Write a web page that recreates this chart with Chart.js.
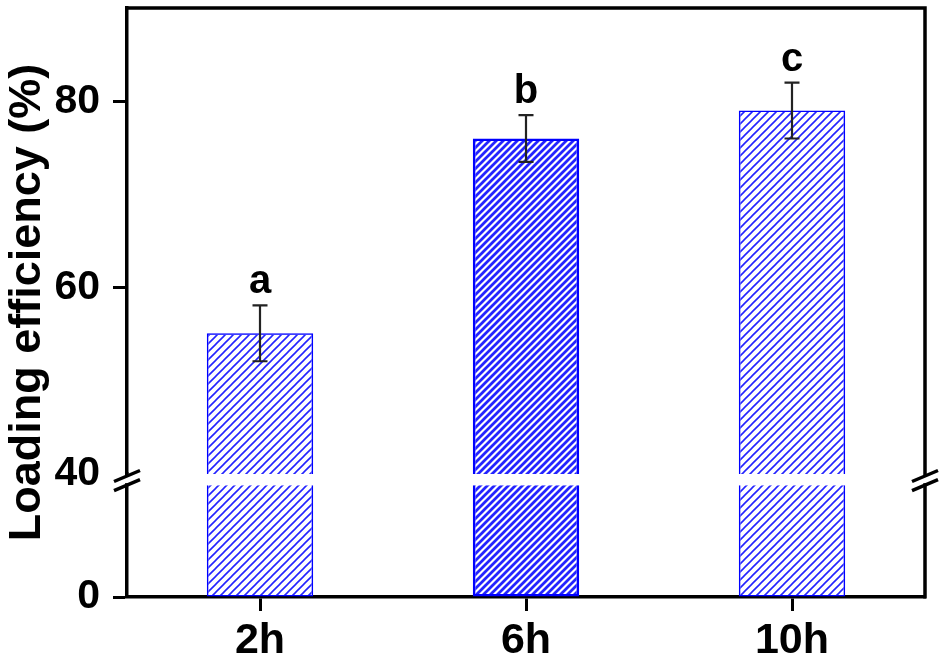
<!DOCTYPE html>
<html>
<head>
<meta charset="utf-8">
<script src="https://cdn.jsdelivr.net/npm/chart.js@4.4.1/dist/chart.umd.min.js"></script>
<style>
    html, body { margin: 0; padding: 0; background: #fff; }
    #wrap { width: 945px; height: 661px; }
</style>
</head>
<body>
<div id="wrap"><canvas id="loadChart"></canvas></div>
<script>
// data
const categories = ['2h', '6h', '10h'];
const efficiency = [55.1, 76.0, 79.0];
const errorBars = [3.0, 2.5, 3.0];
const letters = ['a', 'b', 'c'];
const upperTicks = [40, 60, 80];
const lowerTicks = [0];
const breakValue = 40;

const FONT = "'Liberation Sans', Arial, sans-serif";

function hatch(p, lineWidth) {
    const c = document.createElement('canvas');
    c.width = p;
    c.height = p;
    const g = c.getContext('2d');
    g.strokeStyle = '#2424ff';
    g.lineWidth = lineWidth;
    g.beginPath();
    // "/" lines, tiled
    g.moveTo(-1, p + 1); g.lineTo(p + 1, -1);
    g.moveTo(-1, 1); g.lineTo(1, -1);
    g.moveTo(p - 1, p + 1); g.lineTo(p + 1, p - 1);
    g.stroke();
    return g.createPattern(c, 'repeat');
}

const thinHatch = hatch(8, 1.6);
const thickHatch = hatch(7, 2.8);
const fills = [thinHatch, thickHatch, thinHatch];
const borders = [1.5, 2.5, 1.5];

const breakPlugin = {
    id: 'breakAndErrors',
    afterDatasetsDraw(chart) {
        const ctx = chart.ctx;
        const x = chart.scales.x;
        const y = chart.scales.y;
        ctx.save();
        ctx.strokeStyle = '#222';
        ctx.lineWidth = 2.2;
        ctx.fillStyle = '#000';
        ctx.font = 'bold 40px ' + FONT;
        ctx.textAlign = 'center';
        ctx.textBaseline = 'alphabetic';
        efficiency.forEach(function (v, i) {
            const px = x.getPixelForValue(i);
            const top = y.getPixelForValue(v + errorBars[i]);
            const bot = y.getPixelForValue(v - errorBars[i]);
            ctx.beginPath();
            ctx.moveTo(px, top); ctx.lineTo(px, bot);
            ctx.moveTo(px - 7.5, top); ctx.lineTo(px + 7.5, top);
            ctx.moveTo(px - 7.5, bot); ctx.lineTo(px + 7.5, bot);
            ctx.stroke();
            ctx.fillText(letters[i], px, top - 12);
        });
        ctx.restore();
    },
    afterDraw(chart) {
        const ctx = chart.ctx;
        const a = chart.chartArea;
        const yHi = chart.scales.y.getPixelForValue(breakValue);
        const yLo = chart.scales.yLow.getPixelForValue(breakValue);
        ctx.save();
        // top and right frame
        ctx.strokeStyle = '#000';
        ctx.lineWidth = 3.5;
        ctx.beginPath();
        ctx.moveTo(a.left, a.top);
        ctx.lineTo(a.right, a.top);
        ctx.lineTo(a.right, a.bottom + 1.5);
        ctx.stroke();
        // axis break
        [a.left, a.right].forEach(function (ax) {
            ctx.fillStyle = '#fff';
            ctx.fillRect(ax - 5, yHi + 3, 10, yLo - yHi - 5);
            ctx.beginPath();
            ctx.moveTo(ax - 13, yHi + 7.5); ctx.lineTo(ax + 13, yHi - 3.5);
            ctx.moveTo(ax - 13, yLo + 5.5); ctx.lineTo(ax + 13, yLo - 5.5);
            ctx.lineWidth = 3.5;
            ctx.stroke();
        });
        // y title, centred on the whole plot height
        ctx.fillStyle = '#000';
        ctx.font = 'bold 45px ' + FONT;
        ctx.textAlign = 'center';
        ctx.textBaseline = 'alphabetic';
        ctx.translate(40, (a.top + a.bottom) / 2);
        ctx.rotate(-Math.PI / 2);
        ctx.fillText('Loading efficiency (%)', 0, 0);
        ctx.restore();
    }
};

const yTickColor = function (c) {
    return c.tick && c.tick.value === breakValue ? 'rgba(0,0,0,0)' : '#000';
};

function fitLeft(s) {
    s.width = 127;
    s.paddingTop = 0;
    s.paddingBottom = 0;
}

new Chart(document.getElementById('loadChart'), {
    type: 'bar',
    data: {
        labels: categories,
        datasets: [
            {
                data: efficiency,
                yAxisID: 'y',
                backgroundColor: fills,
                borderColor: '#0000ff',
                borderWidth: borders,
                borderSkipped: 'bottom',
                grouped: false,
                barPercentage: 0.4,
                categoryPercentage: 1.0
            },
            {
                data: efficiency.map(v => Math.min(v, breakValue)),
                yAxisID: 'yLow',
                backgroundColor: fills,
                borderColor: '#0000ff',
                borderWidth: borders,
                borderSkipped: 'top',
                grouped: false,
                barPercentage: 0.4,
                categoryPercentage: 1.0
            }
        ]
    },
    options: {
        responsive: true,
        maintainAspectRatio: false,
        animation: false,
        devicePixelRatio: 1,
        layout: { padding: { top: 8, right: 20, left: 0, bottom: 0 } },
        plugins: {
            legend: { display: false },
            tooltip: { enabled: false }
        },
        scales: {
            x: {
                offset: true,
                grid: {
                    offset: false,
                    drawOnChartArea: false,
                    drawTicks: true,
                    tickLength: 14,
                    tickWidth: 3,
                    tickColor: '#000'
                },
                border: { color: '#000', width: 3.5 },
                ticks: {
                    color: '#000',
                    padding: 4,
                    font: { family: FONT, size: 43, weight: 'bold' }
                },
                afterFit: function (s) { s.height = 64; s.paddingLeft = 0; s.paddingRight = 0; }
            },
            yLow: {
                type: 'linear',
                position: 'left',
                stack: 'left',
                stackWeight: 123,
                min: 0,
                max: 44,
                afterBuildTicks: function (s) { s.ticks = lowerTicks.map(v => ({ value: v })); },
                grid: {
                    drawOnChartArea: false,
                    tickLength: 14,
                    tickWidth: 3,
                    tickColor: '#000'
                },
                border: { color: '#000', width: 3.5 },
                ticks: {
                    color: '#000',
                    padding: 13,
                    font: { family: FONT, size: 41, weight: 'bold' }
                },
                afterFit: fitLeft
            },
            y: {
                type: 'linear',
                position: 'left',
                stack: 'left',
                stackWeight: 466,
                min: breakValue,
                max: 90,
                afterBuildTicks: function (s) { s.ticks = upperTicks.map(v => ({ value: v })); },
                grid: {
                    drawOnChartArea: false,
                    tickLength: 14,
                    tickWidth: 3,
                    tickColor: yTickColor
                },
                border: { color: '#000', width: 3.5 },
                ticks: {
                    color: '#000',
                    padding: 13,
                    font: { family: FONT, size: 41, weight: 'bold' }
                },
                afterFit: fitLeft
            }
        }
    },
    plugins: [breakPlugin]
});
</script>
</body>
</html>
